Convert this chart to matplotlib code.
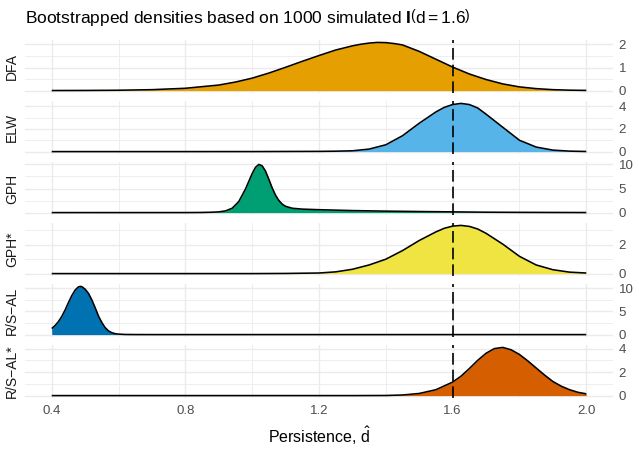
import matplotlib
matplotlib.use("Agg")
import matplotlib.pyplot as plt
import numpy as np

plt.rcParams['font.family'] = ['Liberation Sans', 'DejaVu Sans']
plt.rcParams['mathtext.fontset'] = 'custom'
plt.rcParams['mathtext.rm'] = 'Liberation Sans'
plt.rcParams['mathtext.it'] = 'Liberation Sans:italic'
plt.rcParams['mathtext.bf'] = 'Liberation Sans:bold'

# ---- data ----
methods = ["DFA", "ELW", "GPH", "GPH*", "R/S\u2212AL", "R/S\u2212AL*"]
colors = ["#E69F00", "#56B4E9", "#009E73", "#F0E442", "#0072B2", "#D55E00"]
true_d = 1.6

dfa_x = [0.40, 0.50, 0.60, 0.70, 0.80, 0.90, 0.95, 1.00, 1.05, 1.10, 1.15, 1.20, 1.25, 1.30,
         1.325, 1.35, 1.375, 1.40, 1.425, 1.45, 1.50, 1.55, 1.60, 1.65, 1.70, 1.75, 1.80,
         1.85, 1.90, 1.95, 2.00]
dfa_y = [0.003, 0.006, 0.015, 0.04, 0.10, 0.24, 0.37, 0.54, 0.76, 1.01, 1.27, 1.52, 1.76, 1.94,
         2.01, 2.06, 2.09, 2.08, 2.04, 1.98, 1.70, 1.36, 1.02, 0.72, 0.48, 0.29, 0.16,
         0.085, 0.04, 0.018, 0.008]

elw_x = [0.40, 0.80, 1.00, 1.20, 1.25, 1.30, 1.35, 1.40, 1.45, 1.50, 1.55, 1.575, 1.60, 1.625,
         1.65, 1.675, 1.70, 1.75, 1.80, 1.85, 1.90, 1.95, 2.00]
elw_y = [0.0, 0.0, 0.002, 0.02, 0.035, 0.07, 0.22, 0.6, 1.4, 2.5, 3.5, 3.9, 4.15, 4.25,
         4.15, 3.85, 3.3, 2.15, 1.0, 0.4, 0.13, 0.04, 0.01]

gph_x = [0.40, 0.80, 0.85, 0.88, 0.90, 0.92, 0.94, 0.96, 0.98, 0.99, 1.00, 1.01, 1.02, 1.03,
         1.04, 1.05, 1.06, 1.07, 1.08, 1.09, 1.10, 1.12, 1.15, 1.20, 1.30, 1.40, 1.50, 1.60,
         1.70, 1.80, 1.90, 2.00]
gph_y = [0.0, 0.005, 0.03, 0.08, 0.15, 0.35, 0.9, 2.3, 4.9, 6.5, 8.1, 9.4, 10.0, 9.7,
         8.6, 6.9, 5.1, 3.6, 2.5, 1.75, 1.3, 0.9, 0.72, 0.6, 0.42, 0.3, 0.22, 0.15,
         0.08, 0.05, 0.03, 0.01]

gphs_x = [0.40, 1.00, 1.10, 1.20, 1.25, 1.30, 1.35, 1.40, 1.45, 1.50, 1.55, 1.575, 1.60, 1.625,
          1.65, 1.675, 1.70, 1.75, 1.80, 1.85, 1.90, 1.95, 2.00]
gphs_y = [0.0, 0.0, 0.01, 0.04, 0.12, 0.3, 0.6, 1.0, 1.6, 2.3, 2.9, 3.15, 3.3, 3.35,
          3.28, 3.1, 2.8, 2.05, 1.2, 0.6, 0.27, 0.1, 0.04]

rsal_x = [0.40, 0.41, 0.42, 0.43, 0.44, 0.45, 0.46, 0.47, 0.48, 0.485, 0.49, 0.50, 0.51, 0.52,
          0.53, 0.54, 0.55, 0.56, 0.57, 0.58, 0.59, 0.60, 0.62, 0.65, 0.70, 0.80, 1.00,
          1.50, 2.00]
rsal_y = [1.3, 1.95, 2.8, 3.9, 5.3, 6.9, 8.4, 9.6, 10.3, 10.4, 10.35, 9.8, 8.9, 7.5,
          5.8, 4.0, 2.6, 1.5, 0.8, 0.4, 0.2, 0.1, 0.03, 0.01, 0.0, 0.0, 0.0,
          0.0, 0.0]

rsals_x = [0.40, 1.30, 1.40, 1.45, 1.50, 1.55, 1.60, 1.625, 1.65, 1.675, 1.70, 1.725, 1.75,
           1.775, 1.80, 1.825, 1.85, 1.875, 1.90, 1.925, 1.95, 1.975, 2.00]
rsals_y = [0.0, 0.0, 0.01, 0.05, 0.18, 0.5, 1.15, 1.65, 2.3, 3.0, 3.6, 4.0, 4.1,
           3.9, 3.5, 2.95, 2.35, 1.75, 1.2, 0.8, 0.5, 0.28, 0.15]

series_x = [dfa_x, elw_x, gph_x, gphs_x, rsal_x, rsals_x]
series_y = [dfa_y, elw_y, gph_y, gphs_y, rsal_y, rsals_y]
y_major = [[0, 1, 2], [0, 2, 4], [0, 5, 10], [0, 2], [0, 5, 10], [0, 2, 4]]
y_minor = [[0.5, 1.5], [1, 3], [2.5, 7.5], [1, 3], [2.5, 7.5], [1, 3]]
x_major = [0.4, 0.8, 1.2, 1.6, 2.0]
x_minor = [0.6, 1.0, 1.4, 1.8]
x_labels = ["0.4", "0.8", "1.2", "1.6", "2.0"]

# ---- layout ----
W, H = 639, 450
fig = plt.figure(figsize=(W / 100, H / 100), dpi=100)

def rect(left, top, w, h):
    return [left / W, 1 - (top + h) / H, w / W, h / H]

p_left, p_right = 25, 613
p_top0, p_h, p_step = 40, 53, 61
grid_c = "#EBEBEB"
txt_c = "#4D4D4D"

for i, m in enumerate(methods):
    ax = fig.add_axes(rect(p_left, p_top0 + i * p_step, p_right - p_left, p_h))
    x = np.array(series_x[i])
    y = np.array(series_y[i])
    ymax = y.max()
    ax.set_xlim(0.32, 2.08)
    ax.set_ylim(-0.05 * ymax, 1.05 * ymax)
    ax.set_xticks(x_major)
    ax.set_xticks(x_minor, minor=True)
    ax.set_yticks(y_major[i])
    ax.set_yticks(y_minor[i], minor=True)
    ax.grid(which="major", color=grid_c, lw=1.0, zorder=0)
    ax.grid(which="minor", color=grid_c, lw=0.6, zorder=0)
    ax.set_axisbelow(True)
    for s in ax.spines.values():
        s.set_visible(False)
    ax.yaxis.tick_right()
    ax.tick_params(which="both", length=0, labelsize=9.5, colors=txt_c, pad=4)
    ax.set_yticklabels([str(v) for v in y_major[i]])
    if i == len(methods) - 1:
        ax.set_xticklabels(x_labels)
        ax.tick_params(axis="x", pad=5)
    else:
        ax.set_xticklabels([])
    ax.fill_between(x, 0, y, color=colors[i], lw=0, zorder=2)
    ax.plot(x, y, color="black", lw=1.15, zorder=3, solid_capstyle="butt")
    ax.axvline(true_d, color="black", lw=1.2, dashes=(7, 3), zorder=4)
    fig.text(12 / W, 1 - (p_top0 + i * p_step + p_h / 2) / H, m, rotation=90,
             ha="center", va="center", fontsize=10, color="#1A1A1A")

fig.text(25 / W, 1 - 18 / H,
         r"Bootstrapped densities based on 1000 simulated $\mathbf{I}\left(\mathrm{d} = 1.6\right)$",
         ha="left", va="center", fontsize=12.5, color="black")
fig.text((p_left + p_right) / 2 / W, 1 - 436 / H, r"Persistence, $\hat{\mathrm{d}}$",
         ha="center", va="center", fontsize=11.5, color="black")

fig.savefig("out.png", dpi=100)
